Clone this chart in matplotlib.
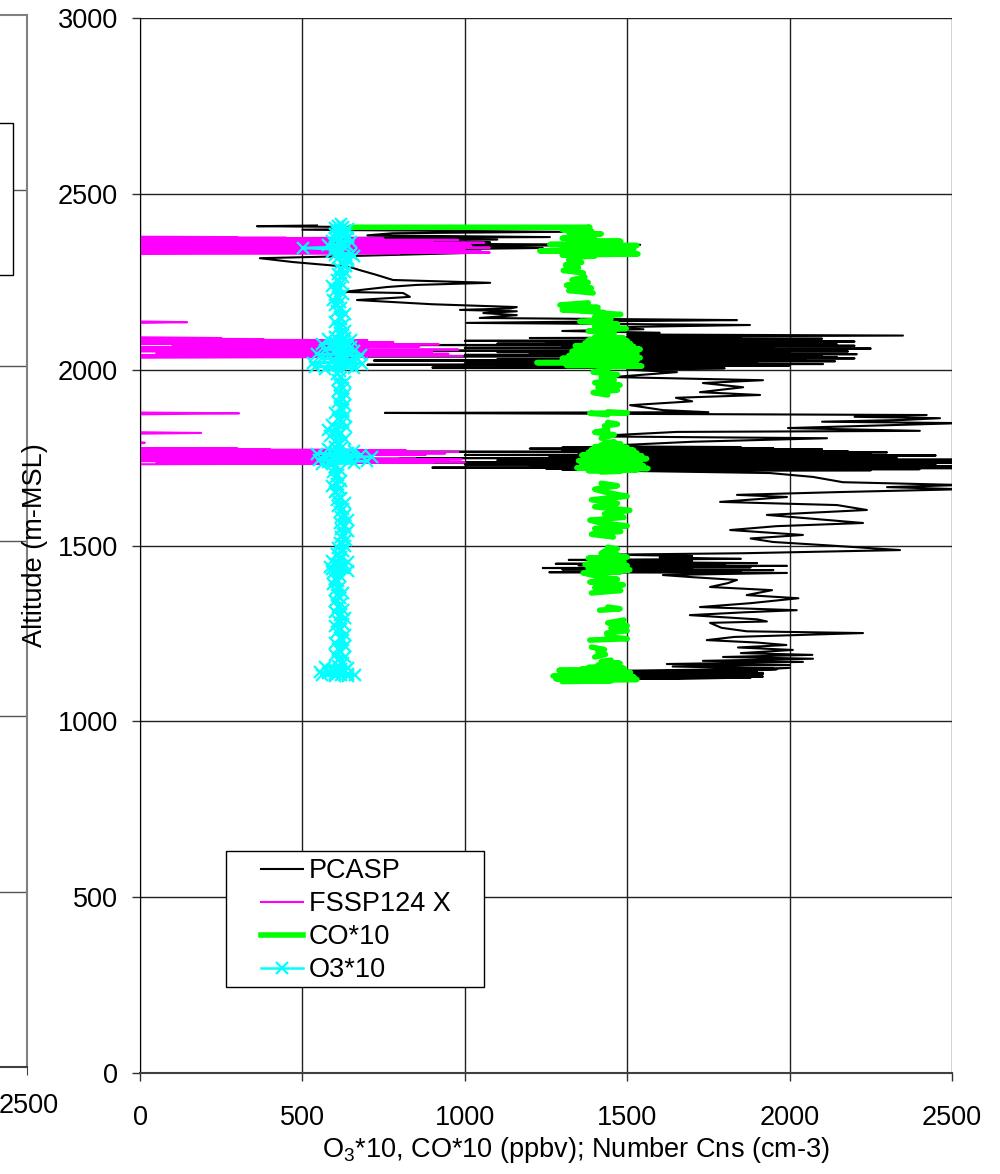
import numpy as np
import matplotlib
matplotlib.use("Agg")
import matplotlib.pyplot as plt
import matplotlib.transforms as mtransforms
from matplotlib.lines import Line2D
from matplotlib.patches import Rectangle

nan = np.nan

# each series: (altitude m, value) in flight order
pcasp = [
    # low level leg ~1130 m
    (1128, 1268), (1131, 1890), (1124, 1340), (1134, 1918), (1127, 1420), (1137, 1800), (1122, 1500),
    (1139, 1870), (1130, 1310), (1133, 1650), (1126, 1560), (1141, 1900), (1129, 1380), (1136, 1740),
    (1121, 1600), (1143, 1850), (1132, 1450), (1138, 1918), (1125, 1700), (1146, 1820), (1135, 1350),
    (1148, 1960), (1140, 1550), (1152, 2000), (1119, 1300), (1124, 1880), (1120, 1450), (1127, 1918),
    (1123, 1600), (1131, 1780), (1144, 1500), (1150, 1950),
    # climb
    (1156, 1640), (1160, 2000), (1163, 1622), (1169, 2041), (1172, 1733), (1178, 2072), (1183, 1795),
    (1189, 2070), (1194, 1850), (1203, 2010), (1210, 1841), (1217, 1990), (1224, 1900), (1231, 1745),
    (1240, 1830), (1251, 2226), (1256, 1868), (1266, 1790), (1280, 1755), (1284, 1930), (1290, 1900),
    (1302, 1693), (1310, 1860), (1316, 2022), (1325, 1724), (1336, 1880), (1350, 2027), (1359, 1868),
    (1373, 1946), (1382, 1755), (1393, 1810), (1402, 1838), (1410, 1700), (1416, 1610),
    (1422, 1992), (1424, 1260), (1426, 1850), (1428, 1400), (1430, 1950), (1432, 1300), (1434, 1700),
    (1436, 1240), (1438, 1880), (1440, 1500), (1442, 1992), (1444, 1350), (1446, 1800), (1448, 1280),
    (1450, 1900), (1453, 1450), (1456, 1700), (1459, 1320), (1462, 1850), (1466, 1600), (1470, 1700),
    (1474, 1450), (1478, 1857),
    (1487, 2340), (1500, 2124), (1510, 1949), (1520, 1880), (1530, 2041), (1544, 1817), (1555, 1960),
    (1564, 2226), (1572, 2124), (1587, 1930), (1601, 2238), (1615, 2146), (1624, 1786), (1638, 1992),
    (1644, 1838), (1652, 2155), (1660, 2530), (1666, 2300), (1672, 2530), (1680, 2164), (1695, 2072),
    (1706, 1940), (1712, 1518),
    # level leg ~1750 m
    (1714, 2250), (1715.5, 1300), (1717, 2400), (1718.5, 1250), (1720, 2530), (1721.5, 900),
    (1723, 2300), (1724.5, 1350), (1726, 2530), (1727.5, 1200), (1729, 2450), (1730.5, 1000),
    (1732, 2350), (1733.5, 1300), (1735, 2530), (1736.5, 850), (1738, 2200), (1739.5, 1400),
    (1741, 2530), (1742.5, 1100), (1744, 2530), (1745.5, 1250), (1747, 2300), (1748.5, 800),
    (1750, 2330), (1751.5, 1300), (1753, 2150), (1754.5, 1260), (1756, 2450), (1757.5, 1000),
    (1759, 2250), (1760.5, 1500), (1762, 2050), (1763.5, 1350), (1765, 2300), (1766.5, 420),
    (1768, 2180), (1769.5, 1300), (1771, 2000), (1772.5, 1450), (1774, 2100), (1775.5, 1200),
    (1777, 1950), (1778.5, 1300), (1780, 1850), (1782, 1400),
    (1795, 1700), (1805, 2115), (1810, 1437), (1814, 1460), (1823, 1653), (1826, 2401), (1834, 1995),
    (1848, 2530), (1852, 2100), (1857, 2349), (1862, 2463), (1866, 2200), (1871, 2422), (1877, 754),
    (1879, 1750), (1885, 1610), (1899, 1509), (1910, 1700), (1920, 1650), (1928, 1909), (1936, 1724),
    (1950, 1857), (1962, 1733), (1970, 1918), (1979, 1456), (1993, 1653), (2000, 1500),
    # level leg ~2050 m
    (2004, 1800), (2006, 900), (2008, 1776), (2010, 1100), (2012, 2000), (2014, 700), (2016, 2103),
    (2018, 1000), (2020, 1900), (2022, 1250), (2024, 2140), (2026, 720), (2028, 2050), (2030, 1100),
    (2032, 2200), (2034, 1300), (2036, 2146), (2038, 680), (2040, 2100), (2042, 1000), (2044, 2207),
    (2046, 1200), (2048, 2000), (2050, 1100), (2052, 2180), (2054, 900), (2056, 2100), (2058, 1350),
    (2060, 2250), (2062, 1000), (2064, 1950), (2066, 1300), (2068, 2200), (2070, 800), (2072, 2146),
    (2074, 1100), (2076, 2050), (2078, 1250), (2080, 2200), (2082, 1000), (2084, 1900), (2086, 1400),
    (2088, 2100), (2090, 1200), (2092, 1850), (2094, 1500), (2097, 2349),
    (2100, 1500), (2105, 1600), (2110, 1300), (2115, 1550), (2120, 1400), (2127, 1878), (2133, 1006),
    (2138, 1500), (2141, 1838), (2147, 1046), (2155, 1160), (2161, 1057), (2166, 1160), (2170, 985),
    (2174, 1140), (2178, 1160), (2186, 900), (2198, 668), (2207, 831), (2218, 810), (2221, 625),
    (2235, 760), (2241, 852), (2247, 1078), (2255, 779), (2269, 730), (2283, 677), (2292, 646),
    (2306, 471), (2317, 369),
    # top ~2370 m
    (2322, 600), (2332, 1016), (2336, 500), (2340, 700), (2346, 1240), (2350, 800), (2355, 1540),
    (2358, 900), (2362, 1078), (2366, 600), (2370, 1100), (2374, 400), (2377, 1262), (2382, 700),
    (2388, 779), (2392, 1300), (2398, 500), (2403, 1000), (2408, 360), (2410, 545),
]

fssp = [
    (1117, 0), (1400, 0), (1731, 0),
    (1733, 600), (1734, 50), (1735, 900), (1736, 100), (1737, 1000), (1738, 300), (1739, 800), (1740, 0),
    (1741, 950), (1742, 200), (1743, 700), (1744, 0), (1745, 990), (1746, 400), (1747, 850), (1748, 100),
    (1749, 600), (1750, 0), (1751, 550), (1752, 0), (1753, 450), (1754, 520), (1755, 30), (1756, 700),
    (1757, 150), (1758, 880), (1759, 0), (1760, 760), (1761, 250), (1762, 940), (1763, 0), (1764, 620),
    (1765, 350), (1766, 980), (1767, 80), (1768, 540), (1769, 0), (1770, 820), (1771, 200), (1772, 660),
    (1773, 0), (1774, 400), (1775, 0), (1776, 300), (1777, 0),
    (1790, 0), (1792, 15), (1794, 0), (1818, 0), (1820, 188), (1822, 0), (1873, 0), (1876, 305),
    (1878, 0), (2034, 0),
    (2036, 700), (2037.5, 100), (2039, 994), (2040.5, 0), (2042, 850), (2043.5, 200), (2045, 950),
    (2046.5, 50), (2048, 600), (2049.5, 300), (2051, 900), (2052.5, 0), (2054, 800), (2055.5, 150),
    (2057, 980), (2058.5, 0), (2060, 700), (2061.5, 250), (2063, 500), (2064.5, 0), (2066, 860),
    (2067.5, 100), (2069, 640), (2070.5, 300), (2072, 920), (2073.5, 0), (2075, 560), (2076.5, 200),
    (2078, 780), (2079.5, 0), (2081, 450), (2082.5, 100), (2084, 700), (2085.5, 0), (2087, 380),
    (2088.5, 0), (2090, 250), (2092, 0),
    (2133, 0), (2135, 145), (2137, 0), (2329, 0),
    (2331, 800), (2332, 100), (2333, 1077), (2334, 0), (2335, 900), (2336, 300), (2337, 1050), (2338, 50),
    (2339, 700), (2340, 0), (2341, 1000), (2342, 200), (2343, 950), (2344, 0), (2345, 850), (2346, 400),
    (2347, 1077), (2348, 100), (2349, 600), (2350, 0), (2351, 900), (2352, 250), (2353, 1020), (2354, 0),
    (2355, 780), (2356, 150), (2357, 960), (2358, 0), (2359, 680), (2360, 300), (2361, 1060), (2362, 50),
    (2363, 820), (2364, 0), (2365, 900), (2366, 200), (2367, 700), (2368, 0), (2369, 980), (2370, 100),
    (2371, 600), (2372, 0), (2373, 750), (2374, 0), (2375, 450), (2376, 0), (2377, 300), (2378, 0),
    (2408, 0),
]

co = [
    (1113, 1300), (1115, 1450), (1117, 1350), (1119, 1530), (1121, 1280), (1123, 1480), (1125, 1400),
    (1127, 1520), (1129, 1272), (1131, 1460), (1133, 1380), (1135, 1500), (1137, 1300), (1139, 1510),
    (1141, 1350), (1143, 1470), (1145, 1290), (1147, 1440), (1149, 1360), (1151, 1490), (1153, 1380),
    (1155, 1420),
    (1160, 1410), (1165, 1478), (1170, 1420), (1174, 1450), (nan, nan),
    (1183, 1400), (1190, 1433), (1197, 1410), (1204, 1430), (1211, 1390), (nan, nan),
    (1231, 1385), (1235, 1500), (1240, 1440), (1251, 1437), (1258, 1500), (1265, 1450), (1272, 1500),
    (1280, 1440), (1288, 1490), (nan, nan), (1316, 1415), (1320, 1478), (1325, 1440), (nan, nan),
    (1365, 1390), (1372, 1480), (1380, 1400), (1388, 1488), (1396, 1385), (1404, 1470), (1410, 1420),
    (1422, 1364), (1425, 1480), (1428, 1400), (1431, 1508), (1434, 1380), (1437, 1460), (1440, 1420),
    (1443, 1500), (1446, 1370), (1449, 1450), (1452, 1410), (1455, 1490), (1458, 1390), (1461, 1470),
    (1464, 1380), (1467, 1500), (1470, 1420), (1474, 1470), (1478, 1420),
    (1484, 1430), (1490, 1470), (1495, 1440), (nan, nan),
    (1524, 1457), (1532, 1390), (1540, 1480), (1548, 1400), (1556, 1500), (1564, 1420), (1572, 1385),
    (1580, 1490), (1590, 1430), (1600, 1508), (1610, 1400), (1620, 1470), (1630, 1390), (1640, 1500),
    (1650, 1440), (1660, 1400), (1670, 1470), (1677, 1420), (nan, nan),
    (1709, 1420), (1711, 1480), (1713, 1380), (1715, 1530), (1717, 1400), (1719, 1564), (1721, 1345),
    (1723, 1500), (1725, 1420), (1727, 1550), (1729, 1360), (1731, 1480), (1733, 1440), (1735, 1520),
    (1737, 1380), (1739, 1540), (1741, 1350), (1743, 1500), (1745, 1400), (1747, 1560), (1749, 1370),
    (1751, 1520), (1753, 1420), (1755, 1545), (1757, 1360), (1759, 1500), (1761, 1400), (1763, 1530),
    (1765, 1380), (1767, 1490), (1769, 1430), (1771, 1520), (1773, 1390), (1775, 1480), (1777, 1410),
    (1779, 1500), (1781, 1400), (1783, 1470), (1786, 1420), (1789, 1480), (1792, 1430), (1795, 1460),
    (nan, nan),
    (1805, 1420), (1815, 1460), (1822, 1400), (1829, 1440), (nan, nan), (1840, 1430), (1845, 1470),
    (1850, 1440), (nan, nan), (1872, 1440), (1876, 1385), (1877, 1500), (1880, 1440), (nan, nan),
    (1928, 1440), (1935, 1395), (1942, 1470), (1949, 1410), (1956, 1478), (1963, 1400), (1970, 1460),
    (1978, 1420), (1986, 1470), (1993, 1395), (2000, 1440),
    (2008, 1420), (2010, 1545), (2012, 1313), (2014, 1500), (2016, 1380), (2018, 1508), (2020, 1222),
    (2022, 1480), (2024, 1350), (2026, 1530), (2028, 1400), (2030, 1500), (2032, 1300), (2034, 1540),
    (2036, 1380), (2038, 1490), (2040, 1320), (2042, 1510), (2044, 1400), (2046, 1530), (2048, 1350),
    (2050, 1500), (2052, 1330), (2054, 1520), (2056, 1380), (2058, 1540), (2060, 1360), (2062, 1500),
    (2064, 1420), (2066, 1520), (2068, 1340), (2070, 1490), (2072, 1400), (2074, 1510), (2076, 1370),
    (2078, 1480), (2080, 1420), (2082, 1500), (2084, 1380), (2086, 1470), (2088, 1410), (2090, 1490),
    (2092, 1400), (2095, 1460), (2098, 1420),
    (2104, 1460), (2110, 1380), (2117, 1497), (2123, 1400), (2130, 1470), (2137, 1354), (2144, 1450),
    (2150, 1400), (2157, 1480), (2161, 1420), (nan, nan),
    (2163, 1427), (2170, 1300), (2177, 1410), (2184, 1293), (2190, 1380), (nan, nan),
    (2218, 1395), (2225, 1320), (2232, 1390), (2240, 1313), (2248, 1380), (2255, 1330), (2263, 1370),
    (nan, nan),
    (2275, 1365), (2282, 1303), (2290, 1350), (2298, 1310), (2305, 1360), (2312, 1320), (2320, 1340),
    (2323, 1400), (2326, 1300), (2329, 1533), (2332, 1350), (2335, 1480), (2338, 1231), (2341, 1520),
    (2344, 1300), (2347, 1450), (2350, 1380), (2353, 1530), (2356, 1262), (2359, 1420), (2362, 1350),
    (2365, 1480), (2368, 1320), (2371, 1400), (2374, 1300), (2378, 1380), (2382, 1350), (2386, 1420),
    (2390, 1320), (2394, 1390), (2398, 1300), (2402, 1360), (2405, 1385), (2405, 646),
]

o3 = [
    (1130, 600), (1132, 560), (1128, 640), (1134, 600), (1131, 662), (1137, 580), (1133, 620),
    (1140, 555), (1136, 640), (1143, 600), (1139, 610), (1146, 590), (1142, 630), (1149, 620),
    (1145, 600), (1152, 640), (1155, 570), (1158, 610),
    (1166, 625), (1174, 610), (1182, 630), (1190, 600), (1198, 620), (1206, 610), (1214, 630),
    (1222, 600), (1230, 625), (1238, 615), (1246, 630), (1254, 605), (1262, 620), (1270, 600),
    (1278, 625), (1286, 610), (1294, 630), (1302, 615), (1310, 600), (1318, 625), (1326, 610),
    (1334, 620), (1342, 600), (1350, 615), (1358, 605), (1366, 625), (1374, 600), (1382, 615),
    (1390, 595), (1398, 610), (1406, 600), (1414, 615), (1422, 595),
    (1428, 640), (1432, 590), (1436, 625), (1440, 585), (1444, 630), (1448, 600), (1452, 640),
    (1456, 590), (1460, 615),
    (1468, 620), (1476, 605), (1484, 625), (1492, 610), (1500, 630), (1508, 615), (1516, 635),
    (1524, 620), (1532, 625), (1540, 640), (1548, 620), (1556, 630), (1564, 615), (1572, 640),
    (1580, 620), (1588, 630), (1596, 615), (1604, 625), (1612, 610), (1620, 630), (1628, 605),
    (1636, 620), (1644, 610), (1652, 600), (1660, 615), (1668, 590), (1676, 605), (1684, 620),
    (1692, 600), (1700, 610), (1708, 595), (1716, 615), (1724, 600),
    (1731, 560), (1734, 660), (1737, 580), (1740, 700), (1743, 550), (1746, 650), (1749, 600),
    (1752, 714), (1755, 570), (1758, 680), (1761, 545), (1764, 640), (1767, 600), (1770, 660),
    (1773, 580), (1776, 620), (1779, 600),
    (1788, 615), (1796, 600), (1804, 630), (1812, 585), (1820, 620), (1828, 580), (1836, 635),
    (1844, 590), (1852, 625), (1860, 610), (1868, 630), (1876, 600), (1884, 625), (1892, 615),
    (1900, 630), (1908, 610), (1916, 625), (1924, 615), (1932, 630), (1940, 610), (1948, 625),
    (1956, 615), (1964, 630), (1972, 610), (1980, 620), (1988, 605), (1996, 615),
    (2002, 570), (2005, 660), (2008, 540), (2011, 640), (2014, 600), (2017, 683), (2020, 533),
    (2023, 650), (2026, 590), (2029, 670), (2032, 560), (2035, 630), (2038, 610), (2041, 680),
    (2044, 545), (2047, 640), (2050, 600), (2053, 660), (2056, 570), (2059, 630), (2062, 610),
    (2065, 650), (2068, 590), (2071, 640), (2074, 560), (2077, 620), (2080, 600), (2083, 650),
    (2086, 580), (2089, 630), (2092, 600), (2095, 620),
    (2103, 615), (2111, 630), (2119, 610), (2127, 625), (2135, 600), (2143, 620), (2151, 615),
    (2159, 630), (2167, 605), (2175, 620), (2183, 600), (2191, 615), (2199, 595), (2207, 610),
    (2215, 625), (2223, 600), (2231, 615), (2239, 590), (2247, 620), (2255, 605), (2263, 625),
    (2271, 610), (2279, 630), (2287, 615), (2295, 635), (2303, 620), (2309, 640),
    (2314, 640), (2318, 610), (2322, 660), (2326, 600), (2330, 650), (2334, 590), (2338, 620),
    (2342, 600), (2346, 502), (2349, 600), (2352, 640), (2355, 580), (2358, 630), (2361, 610),
    (2364, 650), (2367, 590), (2370, 620), (2373, 600), (2376, 640), (2379, 610), (2382, 630),
    (2385, 600), (2388, 620), (2391, 605), (2394, 630), (2397, 615), (2400, 640), (2403, 600),
    (2406, 625), (2409, 610), (2413, 620),
]

x_ticks = [0, 500, 1000, 1500, 2000, 2500]
y_ticks = [0, 500, 1000, 1500, 2000, 2500, 3000]
series_names = ["PCASP", "FSSP124 X", "CO*10", "O3*10"]

plt.rcParams['font.family'] = ['Liberation Sans', 'DejaVu Sans']
plt.rcParams['mathtext.fontset'] = 'custom'
plt.rcParams['mathtext.rm'] = 'Liberation Sans'
fs = 19.5
W, H = 1000, 1174

fig = plt.figure(figsize=(10, 11.74), dpi=100)

# cut-off neighbour chart at the left edge
ax0 = fig.add_axes([-0.8, 1 - 1067 / H, 0.827, 1052 / H])
ax0.set_xlim(0, 2500)
ax0.set_ylim(0, 3000)
ax0.set_xticks([2500])
ax0.set_yticks([])
ax0.tick_params(axis='x', direction='out', length=6, labelsize=fs, pad=13, color='#404040')
# nudge the lone tick label so it stays inside the picture
shift = mtransforms.ScaledTranslation(2 / 100, 0, fig.dpi_scale_trans)
for lab in ax0.get_xticklabels():
    lab.set_transform(lab.get_transform() + shift)
for y in y_ticks[1:-1]:
    ax0.axhline(y, color='#555555', lw=1)
for s in ['left', 'top', 'right']:
    ax0.spines[s].set_color('#808080')
    ax0.spines[s].set_linewidth(1.5)
ax0.spines['bottom'].set_color('#404040')
ax0.spines['bottom'].set_linewidth(1.5)
ax0.add_patch(Rectangle((-0.01, 1 - 275 / H), 0.023, 152 / H, transform=fig.transFigure,
                        facecolor='white', edgecolor='black', lw=1, zorder=5, clip_on=False))

ax = fig.add_axes([0.14, 1 - 1073 / H, 0.812, 1055 / H])
pc_alt, pc_val = zip(*pcasp)
fs_alt, fs_val = zip(*fssp)
co_alt, co_val = zip(*co)
o3_alt, o3_val = zip(*o3)
ax.plot(pc_val, pc_alt, color='black', lw=1.5)
ax.plot(fs_val, fs_alt, color='#ff00ff', lw=1.5)
ax.plot(co_val, co_alt, color='#00ff00', lw=4, solid_capstyle='round', solid_joinstyle='round')
ax.plot(o3_val, o3_alt, color='#00ffff', lw=1.8, marker='x', ms=9, mew=1.6)

ax.set_xlim(0, 2500)
ax.set_ylim(0, 3000)
ax.set_xticks(x_ticks)
ax.set_yticks(y_ticks)
ax.tick_params(axis='both', direction='out', length=6, width=1, color='#303030', labelsize=fs)
ax.tick_params(axis='x', pad=17)
ax.tick_params(axis='y', pad=10)
ax.grid(True, color='#202020', lw=1)
ax.set_axisbelow(True)
ax.spines['top'].set_visible(False)
ax.spines['right'].set_visible(False)
ax.spines['left'].set_color('black')
ax.spines['bottom'].set_color('#404040')
ax.spines['bottom'].set_linewidth(1.5)

fig.text(0.035, 1 - 545 / H, "Altitude (m-MSL)", rotation=90, ha='center', va='center', fontsize=fs)
fig.text(0.576, 1 - 1150 / H, r"O$_\mathregular{3}$*10, CO*10 (ppbv); Number Cns (cm-3)",
         ha='center', va='center', fontsize=fs)

# legend: square frame drawn by hand, entries from matplotlib
handles = [Line2D([], [], color='black', lw=1.5),
           Line2D([], [], color='#ff00ff', lw=1.5),
           Line2D([], [], color='#00ff00', lw=4),
           Line2D([], [], color='#00ffff', lw=1.8, marker='x', ms=9, mew=1.6)]
ax.add_patch(Rectangle((226 / W, 1 - 987 / H), 258 / W, 136 / H, transform=fig.transFigure,
                       facecolor='white', edgecolor='black', lw=1, zorder=8, clip_on=False))
leg = ax.legend(handles, series_names, loc='upper left', bbox_to_anchor=(261 / W, 1 - 858 / H),
                bbox_transform=fig.transFigure, frameon=False, fontsize=fs, handlelength=1.55,
                handletextpad=0.22, labelspacing=0.26, borderpad=0, borderaxespad=0)
leg.set_zorder(10)

fig.savefig("out.png", dpi=100)
